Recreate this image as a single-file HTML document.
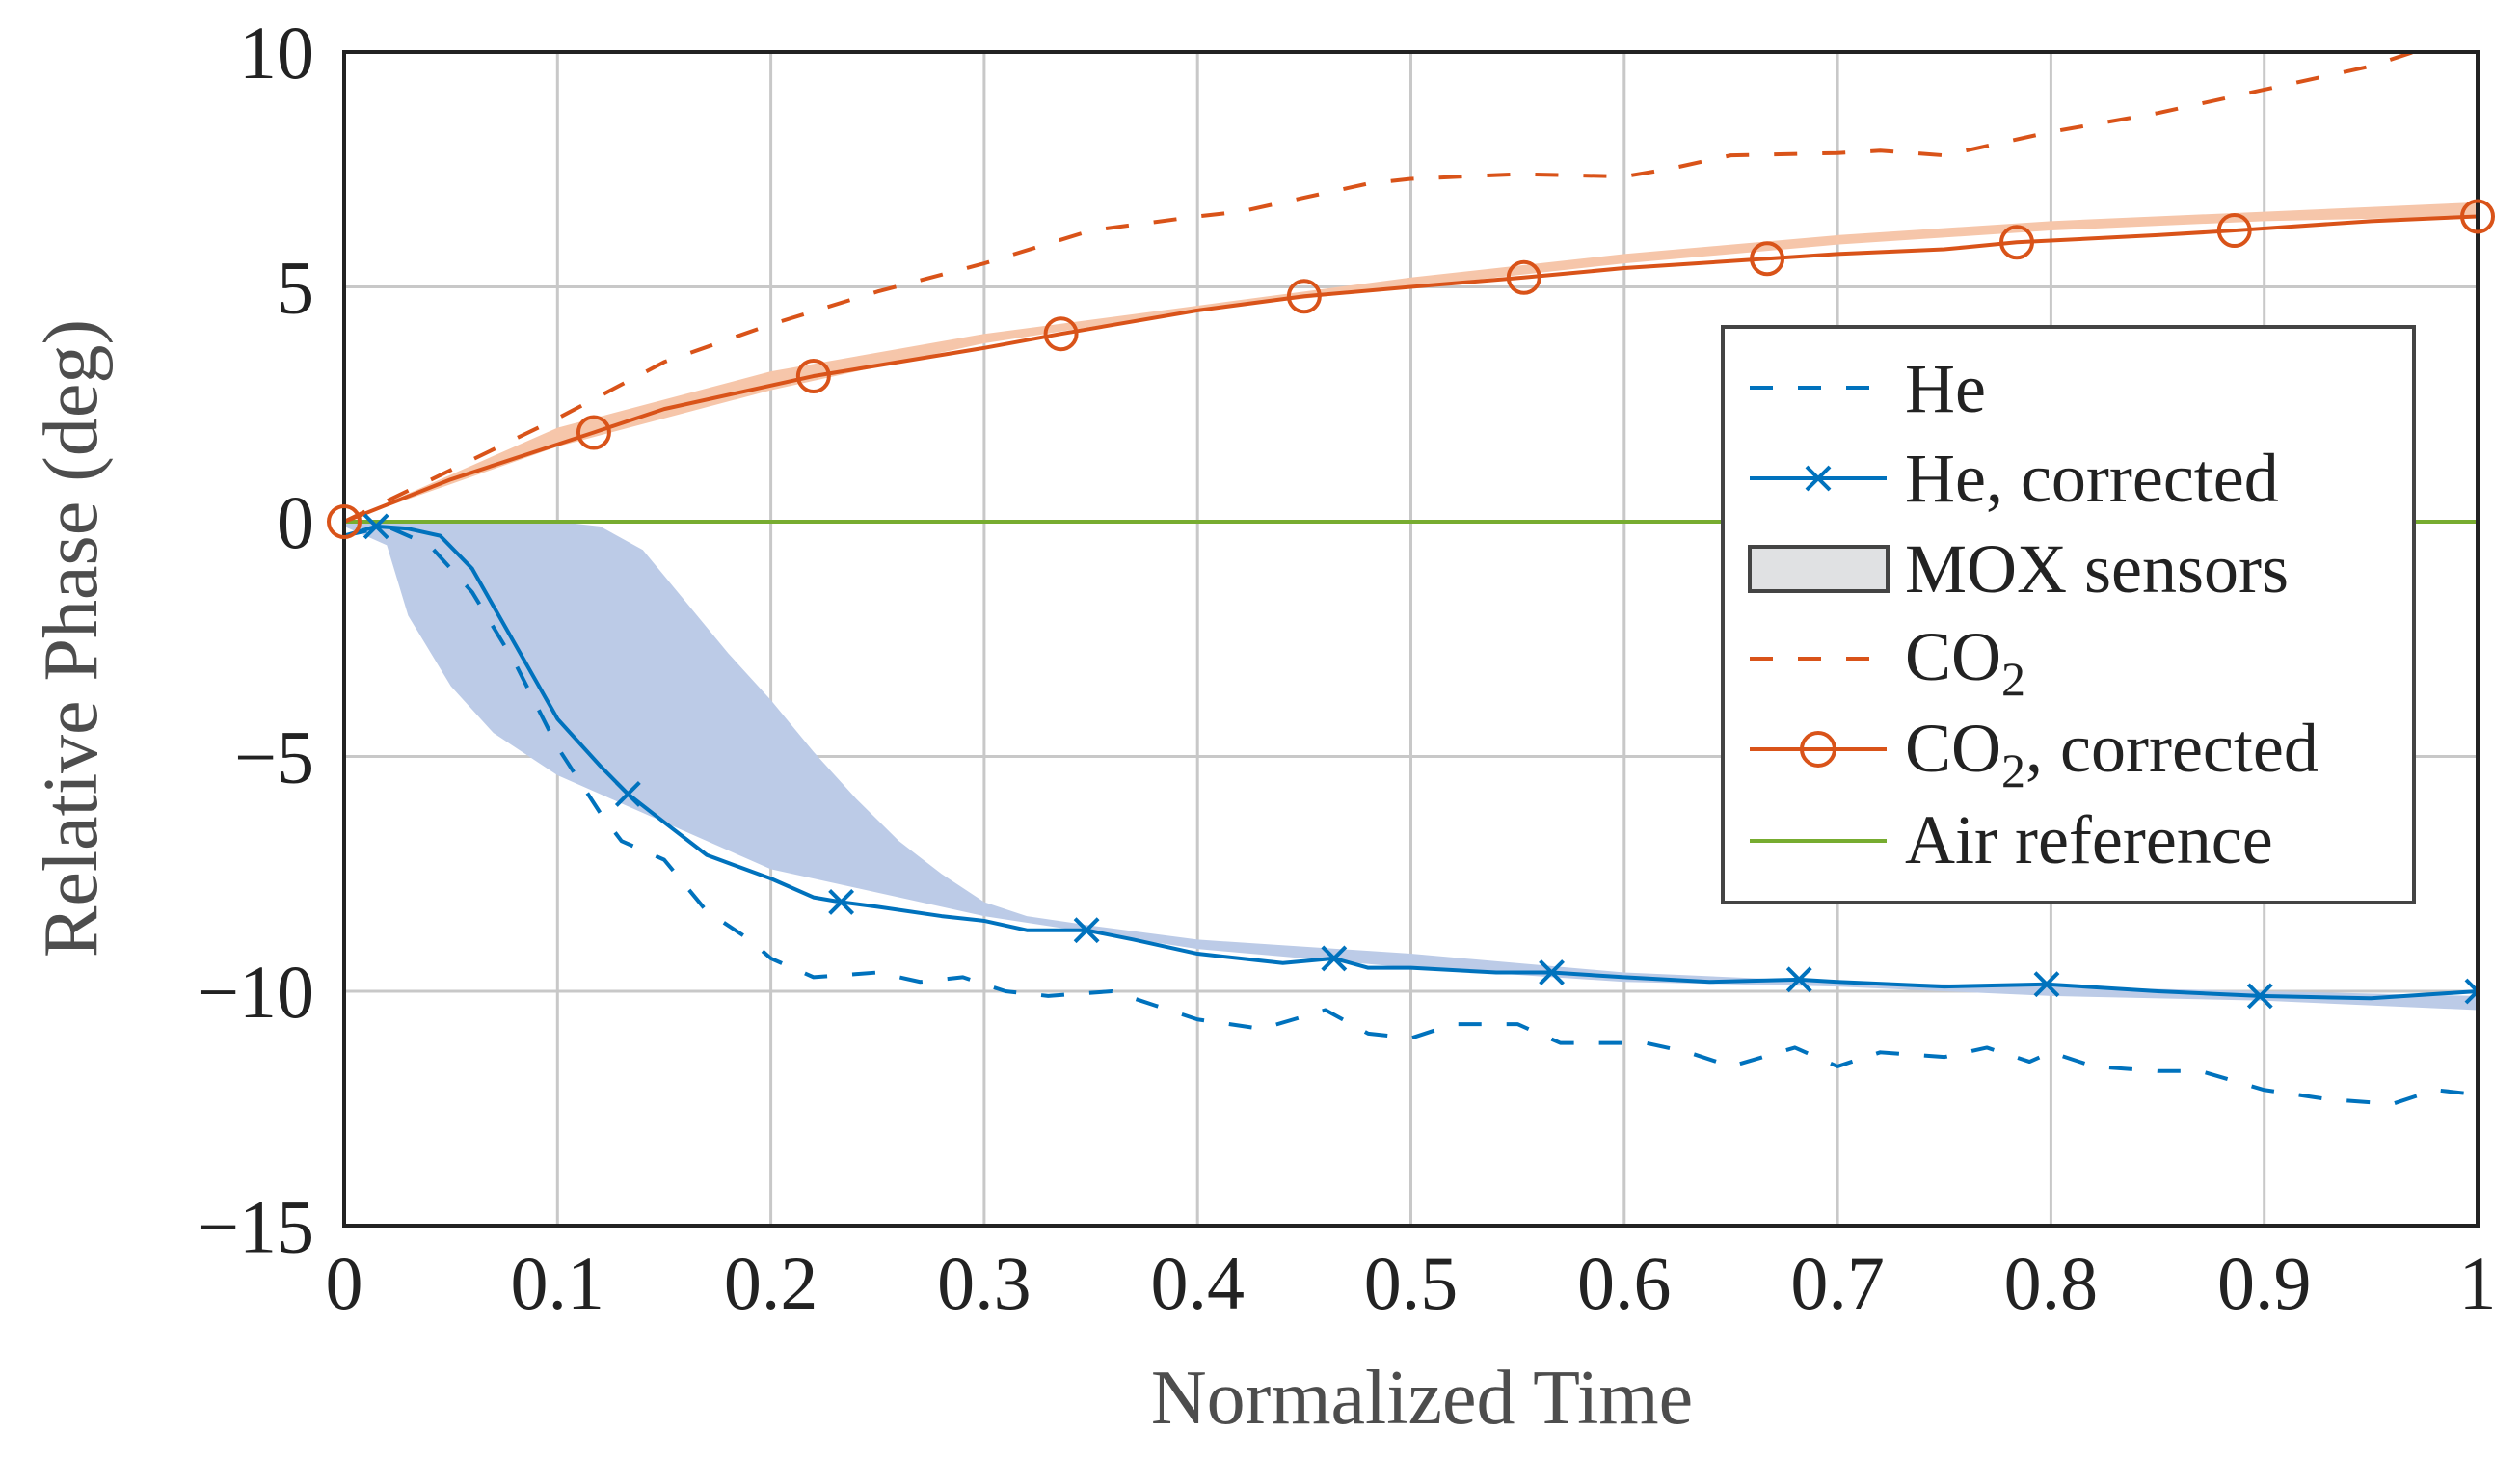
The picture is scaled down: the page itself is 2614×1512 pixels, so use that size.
<!DOCTYPE html>
<html><head><meta charset="utf-8"><style>
body{margin:0;background:#fff}
svg text{font-family:"Liberation Serif",serif}
</style></head><body>
<svg id="chart" width="2614" height="1507" xmlns="http://www.w3.org/2000/svg">
<defs><clipPath id="pc"><rect x="357" y="54" width="2213" height="1217"/></clipPath></defs>
<g id="grid"></g>
<g id="plot" clip-path="url(#pc)"></g>
<rect x="357" y="54" width="2213" height="1217" fill="none" stroke="#222" stroke-width="4"/>
<g id="ticks"></g>
<text x="1475" y="1476" font-size="80" fill="#4d4d4d" text-anchor="middle">Normalized Time</text>
<text transform="translate(100,662) rotate(-90)" font-size="80" fill="#4d4d4d" text-anchor="middle">Relative Phase (deg)</text>
<g id="legend">
<rect x="1787" y="339" width="717" height="597" fill="#fff" stroke="#444" stroke-width="4"/>
<g><line x1="1815" y1="402" x2="1957" y2="402" stroke="#0072bd" stroke-width="4" stroke-dasharray="24,26"/><text x="1976" y="427" font-size="72" fill="#222">He</text></g>
<g><line x1="1815" y1="496" x2="1957" y2="496" stroke="#0072bd" stroke-width="4"/><path d="M1874 484 l24 24 M1898 484 l-24 24" stroke="#0072bd" stroke-width="4"/><text x="1976" y="520" font-size="72" fill="#222">He, corrected</text></g>
<g><rect x="1815" y="567" width="143" height="46" fill="#e0e1e3" stroke="#444" stroke-width="4"/><text x="1976" y="614" font-size="72" fill="#222">MOX sensors</text></g>
<g><line x1="1815" y1="683" x2="1957" y2="683" stroke="#d95319" stroke-width="4" stroke-dasharray="24,26"/><text x="1976" y="705" font-size="72" fill="#222">CO<tspan font-size="50" dy="16">2</tspan></text></g>
<g><line x1="1815" y1="777" x2="1957" y2="777" stroke="#d95319" stroke-width="4"/><circle cx="1886" cy="777" r="17" fill="none" stroke="#d95319" stroke-width="4"/><text x="1976" y="800" font-size="72" fill="#222">CO<tspan font-size="50" dy="16">2</tspan><tspan dy="-16">, corrected</tspan></text></g>
<g><line x1="1815" y1="872" x2="1957" y2="872" stroke="#77ac30" stroke-width="4"/><text x="1976" y="895" font-size="72" fill="#222">Air reference</text></g>
</g>
</svg>
<script>
const xTicks=[0,0.1,0.2,0.3,0.4,0.5,0.6,0.7,0.8,0.9,1];
const xTickLabels=["0","0.1","0.2","0.3","0.4","0.5","0.6","0.7","0.8","0.9","1"];
const yTicks=[-15,-10,-5,0,5,10];
const yTickLabels=["\u221215","\u221210","\u22125","0","5","10"];
const heT=[0,0.02,0.04,0.06,0.08,0.1,0.12,0.13,0.15,0.17,0.19,0.2,0.22,0.25,0.27,0.29,0.31,0.33,0.36,0.38,0.4,0.43,0.46,0.48,0.5,0.52,0.55,0.57,0.59,0.61,0.63,0.65,0.68,0.7,0.72,0.75,0.77,0.79,0.8,0.82,0.85,0.87,0.9,0.93,0.96,0.98,1];
const heV=[-0.3,-0.1,-0.5,-1.5,-3,-4.8,-6.2,-6.8,-7.2,-8.3,-8.9,-9.3,-9.7,-9.6,-9.8,-9.7,-10,-10.1,-10,-10.3,-10.6,-10.8,-10.4,-10.9,-11,-10.7,-10.7,-11.1,-11.1,-11.1,-11.3,-11.6,-11.2,-11.6,-11.3,-11.4,-11.2,-11.5,-11.3,-11.6,-11.7,-11.7,-12.1,-12.3,-12.4,-12.1,-12.2];
const heCorT=[0,0.015,0.03,0.045,0.06,0.08,0.1,0.12,0.133,0.15,0.17,0.2,0.22,0.233,0.25,0.28,0.3,0.32,0.348,0.37,0.4,0.44,0.464,0.48,0.5,0.54,0.566,0.6,0.64,0.682,0.7,0.75,0.798,0.85,0.898,0.95,1];
const heCorV=[-0.3,-0.1,-0.15,-0.3,-1,-2.6,-4.2,-5.2,-5.8,-6.4,-7.1,-7.6,-8.0,-8.1,-8.2,-8.4,-8.5,-8.7,-8.7,-8.9,-9.2,-9.4,-9.3,-9.5,-9.5,-9.6,-9.6,-9.7,-9.8,-9.75,-9.8,-9.9,-9.85,-10,-10.1,-10.15,-10];
const heCorMarkerIdx=[1,8,13,18,22,26,29,32,34,36];
const moxUpT=[0,0.1,0.12,0.14,0.16,0.18,0.2,0.22,0.24,0.26,0.28,0.3,0.32,0.35,0.4,0.5,0.6,0.7,0.8,0.9,1];
const moxUpV=[0,0,-0.1,-0.6,-1.7,-2.8,-3.8,-4.9,-5.9,-6.8,-7.5,-8.1,-8.4,-8.6,-8.9,-9.2,-9.6,-9.8,-9.9,-10,-10.1];
const moxLoT=[0,0.02,0.03,0.05,0.07,0.1,0.13,0.2,0.3,0.4,0.5,0.6,0.7,0.8,0.9,1];
const moxLoV=[-0.1,-0.5,-2,-3.5,-4.5,-5.4,-6,-7.4,-8.4,-9.1,-9.5,-9.8,-9.9,-10.1,-10.2,-10.4];
const co2T=[0,0.05,0.1,0.15,0.2,0.25,0.3,0.35,0.4,0.42,0.45,0.48,0.5,0.55,0.6,0.62,0.65,0.7,0.72,0.75,0.8,0.85,0.9,0.95,0.97];
const co2V=[0,1.1,2.2,3.4,4.2,4.9,5.5,6.2,6.5,6.6,6.9,7.2,7.3,7.4,7.35,7.5,7.8,7.85,7.9,7.8,8.3,8.7,9.2,9.7,10];
const co2CorT=[0,0.05,0.117,0.15,0.22,0.3,0.336,0.4,0.45,0.5,0.553,0.6,0.667,0.7,0.75,0.784,0.85,0.886,0.95,1];
const co2CorV=[0,0.9,1.9,2.4,3.1,3.7,4.0,4.5,4.8,5.0,5.2,5.4,5.6,5.7,5.8,5.95,6.1,6.2,6.4,6.5];
const co2CorMarkerIdx=[0,2,4,6,8,10,12,15,17,19];
const co2BandT=[0,0.1,0.2,0.3,0.4,0.5,0.6,0.7,0.8,0.9,1];
const co2BandUp=[0,2,3.2,4,4.6,5.2,5.7,6.1,6.4,6.6,6.8];
const co2BandLo=[0,1.6,2.8,3.8,4.5,5.0,5.5,5.9,6.2,6.4,6.5];
const airT=[0,1];
const airV=[0,0];

const X=t=>357+2213*t, Y=v=>541-48.7*v;
const NS="http://www.w3.org/2000/svg";
function mk(tag,parent,attrs){const e=document.createElementNS(NS,tag);for(const k in attrs)e.setAttribute(k,attrs[k]);parent.appendChild(e);return e;}
const grid=document.getElementById('grid'),plot=document.getElementById('plot'),ticks=document.getElementById('ticks');
xTicks.forEach((t,i)=>{
  const l=mk('line',grid,{x1:X(t),x2:X(t),y1:54,y2:1271,stroke:'#c8c8c8','stroke-width':3});
  
  
  const tx=mk('text',ticks,{x:X(t),y:1357,'font-size':78,'text-anchor':'middle',fill:'#222'});
  tx.textContent=xTickLabels[i];
  
  
});
yTicks.forEach((v,i)=>{
  const l=mk('line',grid,{x1:357,x2:2570,y1:Y(v),y2:Y(v),stroke:'#c8c8c8','stroke-width':3});
  
  
  const tx=mk('text',ticks,{x:326,y:Y(v)+27,'font-size':78,'text-anchor':'end',fill:'#222'});
  tx.textContent=yTickLabels[i];
  
  
});
const pts=(T,V)=>T.map((t,i)=>X(t)+','+Y(V[i])).join(' ');
function band(Tu,Vu,Tl,Vl,fill,name){
  const p=pts(Tu,Vu)+' '+Tl.map((t,i)=>[t,Vl[i]]).reverse().map(a=>X(a[0])+','+Y(a[1])).join(' ');
  const e=mk('polygon',plot,{points:p,fill:fill,stroke:'none'});
  
  
}
band(moxUpT,moxUpV,moxLoT,moxLoV,'#bccbe7','mox-band');
band(co2BandT,co2BandUp,co2BandT,co2BandLo,'#f6c6aa','co2-band');
function line(T,V,color,dash,name){
  const a={points:pts(T,V),fill:'none',stroke:color,'stroke-width':4,'stroke-linejoin':'round'};
  if(dash)a['stroke-dasharray']=dash;
  const e=mk('polyline',plot,a);
  
  
}
line(airT,airV,'#77ac30',null,'air-reference-line');
line(heT,heV,'#0072bd','24,26','he-line');
line(heCorT,heCorV,'#0072bd',null,'he-corrected-line');
line(co2T,co2V,'#d95319','24,26','co2-line');
line(co2CorT,co2CorV,'#d95319',null,'co2-corrected-line');
heCorMarkerIdx.forEach(i=>{
  const x=X(heCorT[i]),y=Y(heCorV[i]);
  const e=mk('path',plot,{d:`M${x-12} ${y-12} l24 24 M${x+12} ${y-12} l-24 24`,stroke:'#0072bd','stroke-width':4});
  
  
});
co2CorMarkerIdx.forEach(i=>{
  const e=mk('circle',document.getElementById('chart'),{cx:X(co2CorT[i]),cy:Y(co2CorV[i]),r:16,fill:'none',stroke:'#d95319','stroke-width':4});
  
  
});
document.getElementById('chart').appendChild(document.getElementById('legend'));
</script>
</body></html>
